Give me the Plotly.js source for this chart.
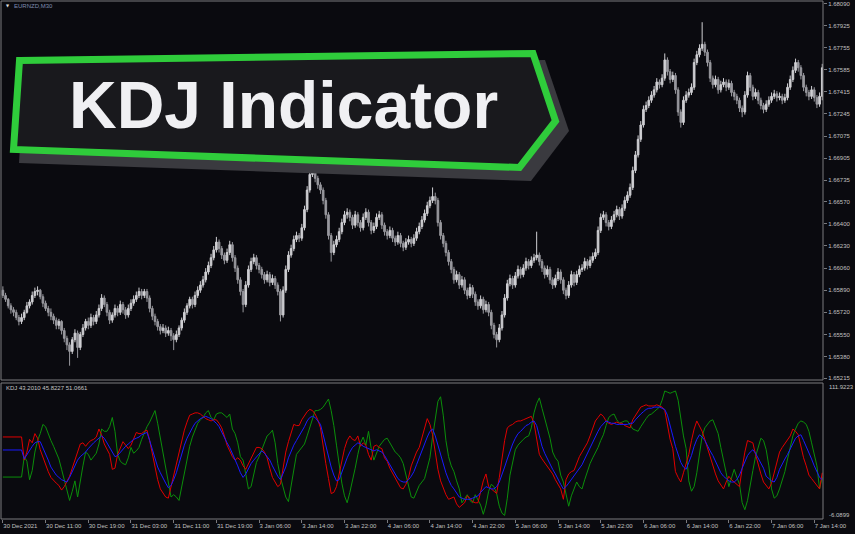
<!DOCTYPE html>
<html><head><meta charset="utf-8">
<script src="https://cdn.plot.ly/plotly-3.0.1.min.js"></script>
<style>html,body{margin:0;padding:0;background:#0a0a0f;overflow:hidden}#chart{width:855px;height:534px}</style>
</head><body><div id="chart"></div>
<script>
// ---- EURNZD M30 candles ----
const openP = [
1.6589,1.6585,1.6582,1.6577,1.6574,1.6572,1.6568,1.6565,1.6568,1.6572,
1.6577,1.6580,1.6585,1.6588,1.6589,1.6584,1.6579,1.6575,1.6572,1.6569,
1.6566,1.6562,1.6565,1.6558,1.6552,1.6547,1.6542,1.6551,1.6556,1.6545,
1.6555,1.6560,1.6565,1.6562,1.6568,1.6565,1.6570,1.6575,1.6583,1.6578,
1.6572,1.6566,1.6570,1.6575,1.6572,1.6578,1.6574,1.6570,1.6575,1.6579,
1.6582,1.6585,1.6588,1.6585,1.6588,1.6583,1.6575,1.6569,1.6565,1.6561,
1.6558,1.6560,1.6556,1.6558,1.6554,1.6551,1.6555,1.6560,1.6566,1.6572,
1.6577,1.6582,1.6578,1.6585,1.6589,1.6593,1.6597,1.6603,1.6608,1.6614,
1.6620,1.6626,1.6621,1.6616,1.6612,1.6618,1.6624,1.6614,1.6606,1.6597,
1.6588,1.6578,1.6593,1.6605,1.6611,1.6614,1.6608,1.6605,1.6601,1.6597,
1.6601,1.6595,1.6598,1.6593,1.6588,1.6570,1.6589,1.6605,1.6616,1.6621,
1.6628,1.6631,1.6629,1.6637,1.6651,1.6666,1.6678,1.6680,1.6675,1.6670,
1.6666,1.6658,1.6647,1.6631,1.6618,1.6624,1.6628,1.6634,1.6641,1.6647,
1.6649,1.6645,1.6639,1.6647,1.6641,1.6637,1.6645,1.6649,1.6641,1.6635,
1.6638,1.6645,1.6647,1.6639,1.6634,1.6631,1.6635,1.6629,1.6626,1.6631,
1.6625,1.6622,1.6626,1.6628,1.6625,1.6629,1.6634,1.6638,1.6643,1.6648,
1.6654,1.6658,1.6661,1.6658,1.6641,1.6631,1.6625,1.6618,1.6611,1.6605,
1.6597,1.6601,1.6593,1.6597,1.6589,1.6585,1.6591,1.6586,1.6580,1.6577,
1.6582,1.6574,1.6578,1.6572,1.6562,1.6555,1.6551,1.6560,1.6570,1.6583,
1.6594,1.6598,1.6593,1.6600,1.6605,1.6601,1.6606,1.6611,1.6608,1.6612,
1.6614,1.6616,1.6611,1.6606,1.6601,1.6605,1.6597,1.6593,1.6598,1.6603,
1.6597,1.6589,1.6585,1.6593,1.6601,1.6595,1.6601,1.6605,1.6606,1.6611,
1.6608,1.6612,1.6615,1.6618,1.6635,1.6645,1.6647,1.6641,1.6638,1.6643,
1.6647,1.6651,1.6646,1.6652,1.6658,1.6662,1.6668,1.6681,1.6693,1.6705,
1.6716,1.6728,1.6731,1.6735,1.6739,1.6743,1.6749,1.6747,1.6752,1.6766,
1.6757,1.6751,1.6754,1.6743,1.6726,1.6718,1.6735,1.6739,1.6741,1.6745,
1.6764,1.6770,1.6775,1.6778,1.6772,1.6764,1.6752,1.6747,1.6751,1.6743,
1.6747,1.6749,1.6745,1.6748,1.6741,1.6738,1.6735,1.6729,1.6726,1.6739,
1.6754,1.6745,1.6738,1.6741,1.6735,1.6731,1.6728,1.6732,1.6735,1.6738,
1.6740,1.6737,1.6738,1.6735,1.6737,1.6745,1.6751,1.6758,1.6764,1.6760,
1.6754,1.6745,1.6741,1.6738,1.6743,1.6737,1.6732,1.6738];

const closeP = [
1.6585,1.6582,1.6577,1.6574,1.6572,1.6568,1.6565,1.6568,1.6572,1.6577,
1.6580,1.6585,1.6588,1.6589,1.6584,1.6579,1.6575,1.6572,1.6569,1.6566,
1.6562,1.6565,1.6558,1.6552,1.6547,1.6542,1.6551,1.6556,1.6545,1.6555,
1.6560,1.6565,1.6562,1.6568,1.6565,1.6570,1.6575,1.6583,1.6578,1.6572,
1.6566,1.6570,1.6575,1.6572,1.6578,1.6574,1.6570,1.6575,1.6579,1.6582,
1.6585,1.6588,1.6585,1.6588,1.6583,1.6575,1.6569,1.6565,1.6561,1.6558,
1.6560,1.6556,1.6558,1.6554,1.6551,1.6555,1.6560,1.6566,1.6572,1.6577,
1.6582,1.6578,1.6585,1.6589,1.6593,1.6597,1.6603,1.6608,1.6614,1.6620,
1.6626,1.6621,1.6616,1.6612,1.6618,1.6624,1.6614,1.6606,1.6597,1.6588,
1.6578,1.6593,1.6605,1.6611,1.6614,1.6608,1.6605,1.6601,1.6597,1.6601,
1.6595,1.6598,1.6593,1.6588,1.6570,1.6589,1.6605,1.6616,1.6621,1.6628,
1.6631,1.6629,1.6637,1.6651,1.6666,1.6678,1.6680,1.6675,1.6670,1.6666,
1.6658,1.6647,1.6631,1.6618,1.6624,1.6628,1.6634,1.6641,1.6647,1.6649,
1.6645,1.6639,1.6647,1.6641,1.6637,1.6645,1.6649,1.6641,1.6635,1.6638,
1.6645,1.6647,1.6639,1.6634,1.6631,1.6635,1.6629,1.6626,1.6631,1.6625,
1.6622,1.6626,1.6628,1.6625,1.6629,1.6634,1.6638,1.6643,1.6648,1.6654,
1.6658,1.6661,1.6658,1.6641,1.6631,1.6625,1.6618,1.6611,1.6605,1.6597,
1.6601,1.6593,1.6597,1.6589,1.6585,1.6591,1.6586,1.6580,1.6577,1.6582,
1.6574,1.6578,1.6572,1.6562,1.6555,1.6551,1.6560,1.6570,1.6583,1.6594,
1.6598,1.6593,1.6600,1.6605,1.6601,1.6606,1.6611,1.6608,1.6612,1.6614,
1.6616,1.6611,1.6606,1.6601,1.6605,1.6597,1.6593,1.6598,1.6603,1.6597,
1.6589,1.6585,1.6593,1.6601,1.6595,1.6601,1.6605,1.6606,1.6611,1.6608,
1.6612,1.6615,1.6618,1.6635,1.6645,1.6647,1.6641,1.6638,1.6643,1.6647,
1.6651,1.6646,1.6652,1.6658,1.6662,1.6668,1.6681,1.6693,1.6705,1.6716,
1.6728,1.6731,1.6735,1.6739,1.6743,1.6749,1.6747,1.6752,1.6766,1.6757,
1.6751,1.6754,1.6743,1.6726,1.6718,1.6735,1.6739,1.6741,1.6745,1.6764,
1.6770,1.6775,1.6778,1.6772,1.6764,1.6752,1.6747,1.6751,1.6743,1.6747,
1.6749,1.6745,1.6748,1.6741,1.6738,1.6735,1.6729,1.6726,1.6739,1.6754,
1.6745,1.6738,1.6741,1.6735,1.6731,1.6728,1.6732,1.6735,1.6738,1.6740,
1.6737,1.6738,1.6735,1.6737,1.6745,1.6751,1.6758,1.6764,1.6760,1.6754,
1.6745,1.6741,1.6738,1.6743,1.6737,1.6732,1.6738,1.6760];

const highP = [
1.6592,1.6587,1.6583,1.6579,1.6576,1.6574,1.6570,1.6571,1.6574,1.6580,
1.6582,1.6588,1.6591,1.6592,1.6590,1.6586,1.6581,1.6577,1.6575,1.6571,
1.6568,1.6567,1.6566,1.6560,1.6554,1.6549,1.6553,1.6559,1.6558,1.6557,
1.6563,1.6567,1.6568,1.6571,1.6570,1.6573,1.6578,1.6586,1.6585,1.6580,
1.6574,1.6572,1.6578,1.6577,1.6581,1.6580,1.6576,1.6578,1.6582,1.6585,
1.6588,1.6591,1.6590,1.6590,1.6590,1.6585,1.6577,1.6571,1.6567,1.6563,
1.6563,1.6562,1.6561,1.6560,1.6556,1.6558,1.6562,1.6568,1.6575,1.6579,
1.6584,1.6584,1.6588,1.6592,1.6596,1.6600,1.6606,1.6611,1.6617,1.6623,
1.6630,1.6628,1.6623,1.6618,1.6621,1.6627,1.6626,1.6616,1.6608,1.6599,
1.6590,1.6596,1.6608,1.6614,1.6617,1.6616,1.6610,1.6607,1.6603,1.6604,
1.6603,1.6601,1.6600,1.6595,1.6590,1.6592,1.6608,1.6619,1.6624,1.6631,
1.6634,1.6633,1.6640,1.6654,1.6669,1.6681,1.6687,1.6683,1.6677,1.6672,
1.6668,1.6660,1.6649,1.6633,1.6627,1.6631,1.6637,1.6644,1.6650,1.6652,
1.6651,1.6647,1.6650,1.6649,1.6643,1.6648,1.6652,1.6651,1.6643,1.6641,
1.6648,1.6650,1.6649,1.6641,1.6636,1.6638,1.6637,1.6631,1.6634,1.6633,
1.6627,1.6629,1.6631,1.6630,1.6632,1.6637,1.6641,1.6646,1.6651,1.6657,
1.6661,1.6668,1.6664,1.6660,1.6643,1.6633,1.6627,1.6620,1.6613,1.6607,
1.6604,1.6603,1.6600,1.6599,1.6591,1.6594,1.6593,1.6588,1.6582,1.6585,
1.6584,1.6581,1.6580,1.6574,1.6564,1.6557,1.6563,1.6573,1.6586,1.6597,
1.6601,1.6600,1.6603,1.6608,1.6607,1.6609,1.6614,1.6613,1.6615,1.6617,
1.6634,1.6618,1.6613,1.6608,1.6608,1.6607,1.6599,1.6601,1.6606,1.6605,
1.6599,1.6591,1.6596,1.6604,1.6603,1.6604,1.6608,1.6609,1.6614,1.6613,
1.6615,1.6618,1.6621,1.6638,1.6648,1.6650,1.6649,1.6643,1.6646,1.6650,
1.6654,1.6653,1.6655,1.6661,1.6665,1.6671,1.6684,1.6696,1.6708,1.6719,
1.6731,1.6734,1.6738,1.6742,1.6746,1.6752,1.6751,1.6755,1.6771,1.6768,
1.6759,1.6757,1.6756,1.6745,1.6728,1.6738,1.6742,1.6744,1.6748,1.6767,
1.6773,1.6778,1.6795,1.6780,1.6774,1.6766,1.6754,1.6754,1.6753,1.6750,
1.6752,1.6751,1.6751,1.6750,1.6743,1.6740,1.6737,1.6731,1.6742,1.6757,
1.6756,1.6747,1.6744,1.6743,1.6737,1.6733,1.6735,1.6738,1.6741,1.6743,
1.6742,1.6741,1.6740,1.6740,1.6748,1.6754,1.6761,1.6767,1.6766,1.6762,
1.6756,1.6747,1.6743,1.6746,1.6745,1.6739,1.6741,1.6763];

const lowP = [
1.6583,1.6580,1.6575,1.6571,1.6569,1.6566,1.6562,1.6563,1.6566,1.6571,
1.6575,1.6578,1.6583,1.6585,1.6582,1.6576,1.6573,1.6569,1.6566,1.6563,
1.6559,1.6559,1.6555,1.6549,1.6543,1.6531,1.6540,1.6549,1.6537,1.6543,
1.6553,1.6558,1.6559,1.6560,1.6562,1.6563,1.6568,1.6573,1.6576,1.6569,
1.6563,1.6564,1.6568,1.6569,1.6570,1.6571,1.6567,1.6568,1.6573,1.6577,
1.6580,1.6583,1.6582,1.6583,1.6580,1.6572,1.6566,1.6562,1.6558,1.6555,
1.6556,1.6553,1.6554,1.6550,1.6543,1.6549,1.6553,1.6558,1.6564,1.6570,
1.6575,1.6575,1.6576,1.6583,1.6587,1.6591,1.6595,1.6601,1.6606,1.6612,
1.6618,1.6618,1.6613,1.6609,1.6610,1.6616,1.6611,1.6603,1.6594,1.6585,
1.6572,1.6576,1.6591,1.6603,1.6609,1.6605,1.6602,1.6598,1.6594,1.6595,
1.6592,1.6593,1.6590,1.6585,1.6565,1.6568,1.6587,1.6603,1.6614,1.6619,
1.6626,1.6626,1.6627,1.6635,1.6649,1.6664,1.6676,1.6672,1.6667,1.6663,
1.6655,1.6644,1.6628,1.6611,1.6616,1.6622,1.6626,1.6632,1.6639,1.6644,
1.6642,1.6636,1.6637,1.6638,1.6634,1.6635,1.6643,1.6638,1.6632,1.6633,
1.6636,1.6643,1.6636,1.6631,1.6628,1.6629,1.6626,1.6623,1.6624,1.6622,
1.6619,1.6620,1.6624,1.6622,1.6623,1.6627,1.6632,1.6636,1.6641,1.6646,
1.6652,1.6656,1.6655,1.6638,1.6628,1.6622,1.6615,1.6608,1.6602,1.6594,
1.6595,1.6590,1.6591,1.6586,1.6582,1.6583,1.6583,1.6577,1.6574,1.6575,
1.6571,1.6572,1.6569,1.6559,1.6552,1.6545,1.6549,1.6558,1.6568,1.6581,
1.6592,1.6590,1.6591,1.6598,1.6598,1.6599,1.6604,1.6605,1.6606,1.6610,
1.6612,1.6608,1.6603,1.6598,1.6599,1.6594,1.6590,1.6591,1.6596,1.6594,
1.6586,1.6582,1.6583,1.6591,1.6592,1.6593,1.6599,1.6603,1.6604,1.6605,
1.6606,1.6610,1.6613,1.6616,1.6633,1.6643,1.6638,1.6635,1.6636,1.6641,
1.6645,1.6643,1.6644,1.6650,1.6656,1.6660,1.6666,1.6679,1.6691,1.6703,
1.6714,1.6726,1.6729,1.6733,1.6737,1.6741,1.6744,1.6745,1.6750,1.6754,
1.6748,1.6749,1.6740,1.6723,1.6714,1.6716,1.6733,1.6737,1.6739,1.6743,
1.6762,1.6768,1.6773,1.6769,1.6761,1.6749,1.6744,1.6745,1.6740,1.6741,
1.6745,1.6742,1.6743,1.6738,1.6735,1.6732,1.6726,1.6722,1.6724,1.6737,
1.6742,1.6735,1.6736,1.6732,1.6728,1.6725,1.6726,1.6730,1.6733,1.6736,
1.6734,1.6735,1.6732,1.6733,1.6735,1.6743,1.6749,1.6756,1.6757,1.6751,
1.6742,1.6738,1.6735,1.6736,1.6734,1.6729,1.6730,1.6735];

// ---- KDJ indicator lines (red, blue, green) ----
const kLine = [
65.1,65.1,65.1,65.1,65.1,65.1,65.1,65.1,45,52,
63,60,68,64,54,47,40,35,30,27,
25,23,19,22,26,31,38,45,52,59,
60,57,60,62,63,65,72,67,59,54,
50,37,38,50,56,61,58,55,58,64,
69,68,68,70,71,62,50,37,28,20,
16,13,12,22,31,42,52,62,71,78,
84,85,86,86,85,83,81,80,79,80,
80,77,73,66,58,53,48,45,47,45,
40,37,42,47,52,56,56,55,52,47,
38,30,26,22,24,40,52,61,69,76,
75,75,80,84,87,89,88,85,80,73,
56,42,29,16,17,22,33,45,55,62,
66,63,62,66,57,60,58,50,45,57,
58,56,55,47,44,38,34,29,25,21,
20,24,30,40,46,52,56,64,73,81,
76,67,52,37,27,20,15,11,12,13,
7,4,6,8,14,12,9,8,8,18,
27,33,22,20,18,16,30,47,62,73,
75,76,78,79,79,80,81,82,83,77,
62,50,46,43,40,37,33,28,24,20,
11,28,33,35,36,42,48,52,56,60,
66,72,79,82,85,83,79,77,76,77,
78,77,77,75,74,73,80,84,88,91,
92,93,92,92,92,93,92,91,88,76,
63,55,35,30,26,34,41,50,62,72,
79,75,70,63,55,48,41,33,27,24,
20,26,31,28,26,24,22,38,52,62,
61,60,50,41,33,26,23,20,25,34,
42,52,56,59,62,66,72,70,67,57,
47,40,32,29,26,22,20,34];

const dLine = [
53.8,53.8,53.8,53.8,53.8,53.8,53.8,53.8,46,50,
54,57,60,61,61,56,50,45,39,35,
32,30,28,27,26,30,35,40,45,48,
50,52,55,58,60,62,64,66,64,60,
56,52,48,49,52,54,57,59,61,63,
64,65,67,68,69,62,54,46,39,34,
29,25,21,23,28,34,42,51,58,64,
69,73,77,79,81,82,83,82,81,79,
77,74,69,65,60,56,51,46,40,34,
30,33,38,42,45,48,51,53,51,48,
45,40,35,31,28,33,39,47,53,58,
62,66,69,74,79,82,83,82,79,76,
67,57,48,39,32,27,28,35,41,47,
52,56,58,60,59,57,56,55,54,53,
54,53,52,49,45,40,36,32,29,27,
26,26,28,31,35,41,47,54,60,65,
70,72,66,58,50,41,34,28,23,20,
16,13,12,11,11,11,12,13,14,17,
20,22,21,20,20,22,26,32,39,46,
53,59,64,68,70,73,75,76,78,79,
75,66,57,51,46,41,37,33,28,24,
20,22,25,28,31,35,38,41,46,51,
56,61,66,70,74,77,79,78,77,77,
76,76,76,76,76,77,77,80,83,85,
87,89,90,90,91,91,91,90,89,84,
76,66,57,49,43,39,37,43,49,57,
63,67,65,62,57,53,49,44,39,34,
31,29,27,26,26,28,32,38,44,49,
52,54,51,47,43,38,31,29,27,26,
30,37,42,46,50,55,60,64,66,67,
62,57,52,46,40,35,30,28];

const jLine = [
30.3,30.3,30.3,30.3,30.3,30.3,30.3,30.3,48,44,
28,36,52,62,68,76,74,67,62,57,
52,46,37,28,17,10,18,27,13,28,
40,52,50,45,48,51,59,72,70,70,
74,82,70,50,44,42,41,47,56,51,
53,56,63,69,74,78,83,88,77,64,
54,38,26,13,15,13,10,22,36,48,
57,65,72,77,80,82,86,88,82,80,
85,86,86,84,82,85,72,68,60,48,
45,33,20,22,34,43,48,54,60,66,
68,71,60,42,30,22,13,9,22,38,
50,53,56,59,66,73,82,88,88,89,
91,95,98,88,75,58,40,25,14,8,
17,27,38,50,60,65,58,70,55,45,
52,57,60,63,64,60,56,52,50,47,
42,32,22,13,12,18,23,26,29,38,
47,65,80,96,100,84,62,48,40,35,
27,20,8,12,15,10,8,15,10,6,
-2,6,18,24,22,16,5,-1,-3,12,
32,44,54,58,61,63,65,66,73,86,
94,99,90,81,72,64,52,47,44,32,
26,16,5,14,20,26,22,20,28,36,
42,47,51,56,62,67,75,82,84,85,
80,77,78,79,79,75,72,71,70,74,
78,81,84,85,87,89,91,97,105,104,
103,104,105,97,80,66,55,27,18,22,
34,52,66,73,76,79,80,74,68,56,
46,34,22,30,37,30,24,8,2,10,
25,36,48,56,64,62,54,40,20,12,
14,20,28,35,46,56,66,72,77,79,
78,76,70,60,50,40,20,30];

// ---- axis labels ----
const priceTicks = [1.68090,1.67925,1.67755,1.67585,1.67415,1.67245,1.67075,1.66905,1.66735,
  1.66570,1.66400,1.66230,1.66060,1.65890,1.65720,1.65550,1.65380,1.65215];
const labelBars = [0,16,32,48,64,80,96,112,128,144,160,176,192,208,224,240,256,272,288,304];
const timeLabels = ["30 Dec 2021","30 Dec 11:00","30 Dec 19:00","31 Dec 03:00","31 Dec 11:00",
  "31 Dec 19:00","3 Jan 06:00","3 Jan 14:00","3 Jan 22:00","4 Jan 06:00","4 Jan 14:00",
  "4 Jan 22:00","5 Jan 06:00","5 Jan 14:00","5 Jan 22:00","6 Jan 06:00","6 Jan 14:00",
  "6 Jan 22:00","7 Jan 06:00","7 Jan 14:00"];
const indMax = 111.9223, indMin = -6.0899;
const symbolText = "EURNZD,M30";
const kdjText = "KDJ 43.2010 45.8227 51.0661";
const bannerText = "KDJ Indicator";

const barIndex = openP.map((_, i) => i);

// pixel -> paper helpers (plot area: x 1..823, y 1..519)
const PX = x => (x - 1) / 822;
const PY = y => (519 - y) / 518;
const pathOf = pts => 'M' + pts.map(p => PX(p[0]).toFixed(5) + ',' + PY(p[1]).toFixed(5)).join(' L') + ' Z';

const FONT = 'Liberation Sans, Arial, sans-serif';
const BORDER = '#7a7a7e';

const traces = [
  {type:'candlestick', x:barIndex, open:openP, high:highP, low:lowP, close:closeP,
   xaxis:'x', yaxis:'y', whiskerwidth:0, hoverinfo:'skip', showlegend:false,
   increasing:{line:{color:'#cfcfd3', width:1}, fillcolor:'#cfcfd3'},
   decreasing:{line:{color:'#98989e', width:1}, fillcolor:'#98989e'}},
  {type:'scatter', mode:'lines', x:barIndex, y:jLine, xaxis:'x', yaxis:'y2',
   line:{color:'#0a8f0a', width:1}, hoverinfo:'skip', showlegend:false},
  {type:'scatter', mode:'lines', x:barIndex, y:kLine, xaxis:'x', yaxis:'y2',
   line:{color:'#e00000', width:1}, hoverinfo:'skip', showlegend:false},
  {type:'scatter', mode:'lines', x:barIndex, y:dLine, xaxis:'x', yaxis:'y2',
   line:{color:'#1a1aff', width:1}, hoverinfo:'skip', showlegend:false}
];

const layout = {
  width:855, height:534,
  margin:{l:1, r:32, t:1, b:15, pad:0},
  paper_bgcolor:'#0a0a0f', plot_bgcolor:'#0a0a0f',
  font:{family:FONT, size:6, color:'#c0c0c0'},
  showlegend:false,
  boxgap:0.12,
  xaxis:{anchor:'y2', domain:[0,1], range:[-0.7, 307.28], rangeslider:{visible:false},
    tickmode:'array', tickvals:labelBars, ticktext:timeLabels, tickangle:0,
    ticks:'outside', ticklen:3, tickcolor:BORDER, tickwidth:1,
    ticklabelposition:'outside right', ticklabelstandoff:1,
    tickfont:{family:FONT, size:6, color:'#c0c0c0'},
    showgrid:false, zeroline:false, showline:false, fixedrange:true, automargin:false},
  yaxis:{domain:[PY(380), 1], range:[1.65200, 1.68113], side:'right', anchor:'x',
    tickmode:'array', tickvals:priceTicks, tickformat:'.5f',
    ticks:'outside', ticklen:3, tickcolor:BORDER, tickwidth:1,
    tickfont:{family:FONT, size:6, color:'#c0c0c0'},
    showgrid:false, zeroline:false, showline:false, fixedrange:true, automargin:false},
  yaxis2:{domain:[0, PY(383)], range:[indMin, indMax], side:'right', anchor:'x',
    showticklabels:false, ticks:'', showgrid:false, zeroline:false, showline:false, fixedrange:true},
  shapes:[
    {type:'rect', xref:'paper', yref:'paper', x0:0, x1:1, y0:PY(380), y1:1,
     line:{color:BORDER, width:1}, fillcolor:'rgba(0,0,0,0)', layer:'above'},
    {type:'rect', xref:'paper', yref:'paper', x0:0, x1:1, y0:0, y1:PY(383),
     line:{color:BORDER, width:1}, fillcolor:'rgba(0,0,0,0)', layer:'above'},
    {type:'path', xref:'paper', yref:'paper', layer:'above',
     path:pathOf([[25,67],[545,60],[569,131],[531,181],[19,163]]),
     fillcolor:'#3a3a3f', line:{width:0}},
    {type:'path', xref:'paper', yref:'paper', layer:'above',
     path:pathOf([[19.5,60.5],[533,53.5],[555.5,121],[519.5,167.5],[13.5,149.5]]),
     fillcolor:'#19191d', line:{color:'#2fcc3b', width:7}}
  ],
  annotations:[
    {xref:'paper', yref:'paper', x:PX(283), y:PY(105), xanchor:'center', yanchor:'middle',
     text:bannerText, showarrow:false,
     font:{family:FONT, size:66, color:'#f0f0f3', weight:700}},
    {xref:'paper', yref:'paper', x:PX(4), y:PY(6), xanchor:'left', yanchor:'middle',
     text:'\u25BC', showarrow:false, font:{family:'DejaVu Sans', size:4, color:'#e0e0e0'}},
    {xref:'paper', yref:'paper', x:PX(12), y:PY(6), xanchor:'left', yanchor:'middle',
     text:symbolText, showarrow:false, font:{family:FONT, size:6, color:'#7f8db0'}},
    {xref:'paper', yref:'paper', x:PX(4), y:PY(388), xanchor:'left', yanchor:'middle',
     text:kdjText, showarrow:false, font:{family:FONT, size:6, color:'#c4c4c4'}},
    {xref:'paper', yref:'paper', x:PX(827), y:PY(387), xanchor:'left', yanchor:'middle',
     text:indMax.toFixed(4), showarrow:false, font:{family:FONT, size:6, color:'#c0c0c0'}},
    {xref:'paper', yref:'paper', x:PX(827), y:PY(515), xanchor:'left', yanchor:'middle',
     text:indMin.toFixed(4), showarrow:false, font:{family:FONT, size:6, color:'#c0c0c0'}}
  ]
};

Plotly.newPlot('chart', traces, layout, {staticPlot:true, displayModeBar:false});
</script>
</body></html>
